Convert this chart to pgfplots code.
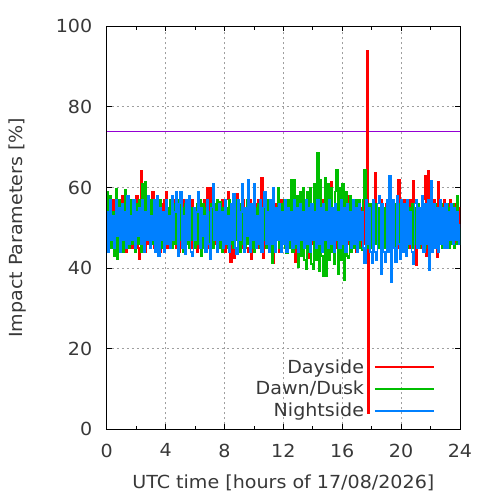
\documentclass[border=0pt]{standalone}
\usepackage{pgfplots}
\pgfplotsset{compat=1.18}
\usepackage{pgfplotstable}
\usepackage{fontspec}
\setmainfont{DejaVu Sans}[FakeStretch=1.06]
\newcommand\ff{\fontsize{18bp}{21.6bp}\selectfont}
\definecolor{txt}{RGB}{56,56,56}
\definecolor{cday}{RGB}{255,0,0}
\definecolor{cdawn}{RGB}{0,190,0}
\definecolor{cnight}{RGB}{0,128,255}
\definecolor{cviol}{RGB}{148,0,211}
\pgfplotstableread{
t D G N
0.0 57 59 54
0.1 45 44 44
0.2 55 58 57
0.3 47 45 47
0.4 57 54 53
0.5 44 43 45
0.6 56 59.6 57
0.7 47 42.3 48
0.8 54 57 55
0.9 46 45 44
1.0 58 53 56
1.1 46 44 47
1.2 55 59.5 54
1.3 44 47 45
1.4 57 56 58
1.5 48 45 46
1.6 54 57 53
1.7 45 46 47
1.8 56 54 57
1.9 47 44 45
2.0 58 56 54
2.1 45 46 48
2.2 42.3 57 55
2.3 64 44 46
2.4 47 61 57
2.5 56 45 44
2.6 44 61.4 54
2.7 57 47 47
2.8 46 56 58
2.9 55 45 45
3.0 47 57 53
3.1 59 46 47
3.2 45 55 57
3.3 57 44 44
3.4 46 56 58
3.5 54 47 43
3.6 44 57 55
3.7 56 45 47
3.8 47 54 54
3.9 57 46 44
4.0 59 47 57
4.1 45 55 46
4.2 55 46 53
4.3 47 57 45
4.4 54 45 58
4.5 46 56 47
4.6 57 46 54
4.7 45 54 58.8
4.8 56 45 43
4.9 44 57 56
5.0 55 47 58.8
5.1 47 55 45
5.2 57 44 53
5.3 45 56 43.5
5.4 56 46 57
5.5 46 57 47
5.6 54 45 58
5.7 45 55 44
5.8 57 47 43
5.9 47 54 55
6.0 55 45 47
6.1 44 56 54
6.2 56 46 59
6.3 47 57 45
6.4 55 43 55
6.5 45 56 48
6.6 57 45 53
6.7 46 55 44
6.8 60 47 57
6.9 45 54 46
7.0 59.8 46 42.3
7.1 47 56 55
7.2 57 45 61
7.3 46 56 47
7.4 55 47 54
7.5 44 57 44
7.6 56.4 45 56
7.7 46 56.4 47
7.8 57 44 54
7.9 45 55 45
8.0 44 47 57
8.1 57 55 46
8.2 59 45 53
8.3 46 57 44
8.4 41.6 46 56
8.5 56 54 47
8.6 42.5 45 58.5
8.7 55 57 45
8.8 58.5 47 43.5
8.9 46 55 57
9.0 56 44 47
9.1 45 56 54
9.2 57 46 61
9.3 47 55 44
9.4 54 45 55
9.5 45 57 48
9.6 44 46 62
9.7 57 55 44
9.8 42.3 45 56
9.9 55 56 47
10.0 47 44 61
10.1 56 55 45
10.2 45 47 53
10.3 57 56 46
10.4 46 45 57
10.5 62.4 55 44
10.6 42.5 47 55
10.7 56 56 59
10.8 47 45 46
10.9 55 57 54
11.0 45 46 44
11.1 57 55 57
11.2 46 41.2 46
11.3 41.2 56 60
11.4 56 46 44
11.5 47 54 55
11.6 55 60 47
11.7 44 45 56
11.8 57 56 44
11.9 46 47 54
12.0 55 57 46
12.1 45 45 57
12.2 56 43.6 44
12.3 47 57 55
12.4 55 45 47
12.5 45 61.8 54
12.6 57 44 45
12.7 46 62 57
12.8 41.6 45 46
12.9 56 58 55
13.0 47 40.2 44
13.1 55 59 56
13.2 45 43 47
13.3 57 60 54
13.4 46 42 45
13.5 55 39.7 57
13.6 45 59 46
13.7 42.5 44 55
13.8 58 60 44
13.9 46 41 56
14.0 55 39.8 47
14.1 45 61 54
14.2 56 42 45
14.3 46 68.6 57
14.4 55 39.2 46
14.5 45 62 55
14.6 57 43 44
14.7 46 38 56
14.8 55 62.5 47
14.9 45 38 54
15.0 56 61 45
15.1 43 42 57
15.2 61.5 60 46
15.3 46 44 55
15.4 55 41 44
15.5 45 59 56
15.6 56 64.4 47
15.7 46 38.5 54
15.8 55 60 45
15.9 45 42 57
16.0 60.6 61 46
16.1 46 36.9 55
16.2 55 59 44
16.3 58 43 56
16.4 46 42.5 47
16.5 55 58 54
16.6 44.5 44 45
16.7 57 57 57
16.8 46 45 46
16.9 44 57 55
17.0 56 44 44
17.1 47 57 56
17.2 55 45 47
17.3 45 44.5 54
17.4 57 57 45
17.5 46 64.5 41.3
17.6 52 45 57
17.7 94 56 46
17.75 4 48 53
17.8 52 45 55
17.9 56 56 44
18.0 46 45 41.3
18.1 57 55 57
18.2 63.5 46 44
18.3 46 56 42
18.4 55 45 56
18.5 45 55 58
18.6 57 46 38.4
18.7 46 56 56
18.8 55 45 44
18.9 45 55 41.5
19.0 56 46 57
19.1 46 56 44
19.2 55 45 63
19.3 45 55 36.4
19.4 57 46 57
19.5 46 56 45
19.6 55 45 41.6
19.7 45 55 58
19.8 62 46 46
19.9 46 56 42.2
20.0 56 45 57
20.1 45 55 44
20.2 57 46 56
20.3 46 56 43
20.4 55 45 57
20.5 45 55 46
20.6 57 46 54
20.7 46 56 44
20.8 61.6 45 41
20.9 46 55 56
21.0 40.8 46 57
21.1 56 56 45
21.2 46 45 55
21.3 55 55 46
21.4 45 46 58
21.5 57 56 44
21.6 63 45 56
21.7 43 55 46
21.8 64 46 57
21.9 46 56 39.6
22.0 55 45 61.6
22.1 45 55 44
22.2 57 46 56
22.3 46 56 45
22.4 42.8 45 55
22.5 61.5 55 44
22.6 46 47 57
22.7 55 56 46
22.8 45 45 55
22.9 57 55 45
23.0 46 47 56
23.1 55 56 45
23.2 45 45 54
23.3 57 55 47
23.4 46 46 56
23.5 55 56 46
23.6 45 45 55
23.7 56 46 47
23.8 46 58 54
23.9 55 46 46
24.0 50 50 51
}\data
\begin{document}
\begin{tikzpicture}
\path[use as bounding box] (0,0) rectangle (500bp,500bp);
\begin{axis}[
  at={(106.7bp,70.7bp)}, anchor=south west,
  scale only axis, width=353.3bp, height=403bp,
  xmin=0, xmax=24, ymin=0, ymax=100,
  xtick={0,4,...,24}, ytick={0,20,...,100},
  minor xtick={2,6,...,22},
  tick align=inside,
  major tick length=5bp, minor tick length=3.5bp,
  every tick/.style={black, line width=0.8bp},
  axis line style={black, line width=1bp},
  grid=major,
  major grid style={dash pattern=on 2bp off 3bp, gray!75, line width=0.8bp},
  /pgf/number format/assume math mode=true,
  tick label style={font=\ff, text=txt},
  xticklabel style={yshift=-11bp},
  yticklabel style={xshift=-11bp},
  xlabel={UTC time [hours of 17/08/2026]},
  ylabel={Impact Parameters [\%]},
  every axis x label/.style={at={(axis description cs:0.5,-0.1464)}, anchor=base, font=\ff, text=txt},
  every axis y label/.style={at={(axis description cs:-0.2378,0.5)}, rotate=90, anchor=base, font=\ff, text=txt},
  legend style={at={(axis description cs:0.929,0.022)}, anchor=south east, draw=none, fill=none, inner sep=0pt, font=\ff, text=txt, row sep=2.6bp, column sep=8bp},
  legend cell align=right,
  legend plot pos=right,
  legend image code/.code={\draw[#1] (0bp,0bp) -- (59bp,0bp);},
]
\addlegendimage{cday, line width=1.7bp}
\addlegendentry{Dayside}
\addlegendimage{cdawn, line width=1.7bp}
\addlegendentry{Dawn/Dusk}
\addlegendimage{cnight, line width=1.7bp}
\addlegendentry{Nightside}
\addplot[cviol, line width=1bp, forget plot] coordinates {(0,74) (24,74)};
\addplot[cday, line width=1.8bp, const plot, forget plot] table[x=t, y=D] {\data};
\addplot[cdawn, line width=1.7bp, const plot, forget plot] table[x=t, y=G] {\data};
\addplot[cnight, line width=1.7bp, const plot, forget plot] table[x=t, y=N] {\data};
\end{axis}
\end{tikzpicture}
\end{document}
